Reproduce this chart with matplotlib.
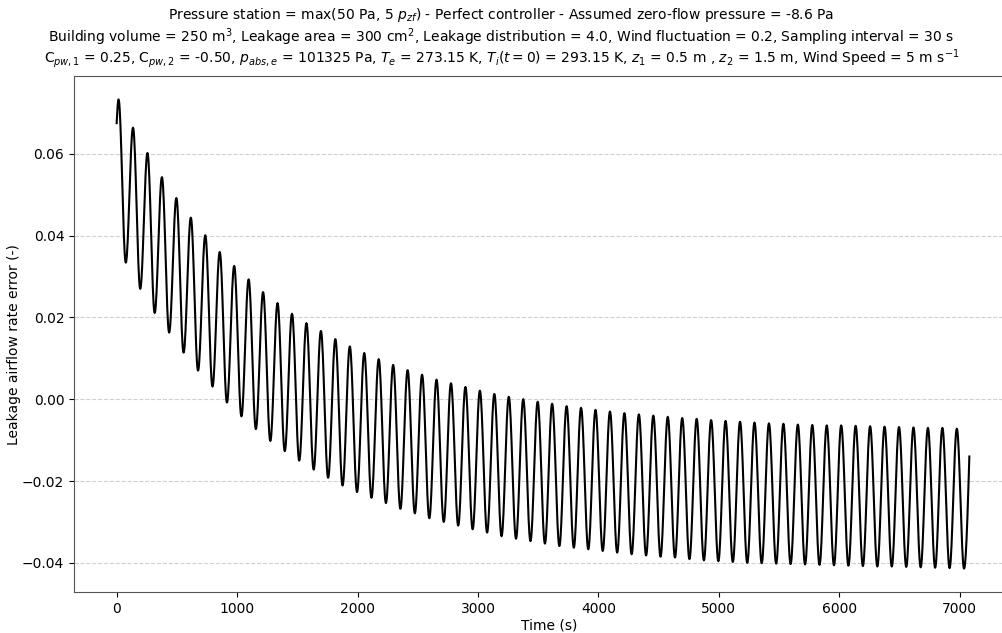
import numpy as np
import matplotlib
matplotlib.use("Agg")
import matplotlib.pyplot as plt

# ---- data ----
period = 120.0          # s, oscillation period
first_peak_time = 16.0  # s
start_time, start_value = 0.0, 0.0675
end_time, end_value = 7080.0, -0.0140

peak_values = [
    0.0733, 0.0664, 0.0602, 0.0543, 0.0492, 0.0444, 0.0401, 0.0360, 0.0326, 0.0293,
    0.0262, 0.0235, 0.0209, 0.0186, 0.0167, 0.0147, 0.0129, 0.0113, 0.0098, 0.0084,
    0.0071, 0.0060, 0.0048, 0.0039, 0.0030, 0.0021, 0.0013, 0.0006, 0.0000, -0.0006,
    -0.0011, -0.0017, -0.0021, -0.0026, -0.0030, -0.0034, -0.0037, -0.0040, -0.0043, -0.0046,
    -0.0048, -0.0051, -0.0053, -0.0055, -0.0057, -0.0059, -0.0060, -0.0062, -0.0063, -0.0064,
    -0.0064, -0.0065, -0.0066, -0.0067, -0.0068, -0.0069, -0.0070, -0.0070, -0.0072,
]
trough_values = [
    0.0334, 0.0270, 0.0211, 0.0163, 0.0114, 0.0070, 0.0031, -0.0008, -0.0042, -0.0073,
    -0.0102, -0.0127, -0.0150, -0.0172, -0.0192, -0.0211, -0.0227, -0.0241, -0.0254, -0.0268,
    -0.0279, -0.0291, -0.0300, -0.0309, -0.0318, -0.0326, -0.0335, -0.0341, -0.0347, -0.0353,
    -0.0359, -0.0363, -0.0367, -0.0371, -0.0375, -0.0379, -0.0382, -0.0385, -0.0387, -0.0391,
    -0.0394, -0.0396, -0.0398, -0.0400, -0.0401, -0.0402, -0.0403, -0.0404, -0.0405, -0.0406,
    -0.0407, -0.0408, -0.0409, -0.0409, -0.0410, -0.0411, -0.0412, -0.0413, -0.0414,
]

# ---- build the smooth trace through the extrema ----
ext_t, ext_v = [], []
for k, (p, q) in enumerate(zip(peak_values, trough_values)):
    ext_t += [first_peak_time + k * period, first_peak_time + k * period + period / 2]
    ext_v += [p, q]

t_all, v_all = [], []
s = np.linspace(0, 1, 20)
# start segment (ease-out into first peak)
t_all.append(start_time + (ext_t[0] - start_time) * s)
v_all.append(start_value + (ext_v[0] - start_value) * np.sin(np.pi / 2 * s))
for i in range(len(ext_t) - 1):
    t_all.append(ext_t[i] + (ext_t[i + 1] - ext_t[i]) * s[1:])
    v_all.append(ext_v[i] + (ext_v[i + 1] - ext_v[i]) * (1 - np.cos(np.pi * s[1:])) / 2)
# end segment (ease-in from last trough)
t_all.append(ext_t[-1] + (end_time - ext_t[-1]) * s[1:])
v_all.append(ext_v[-1] + (end_value - ext_v[-1]) * (1 - np.cos(np.pi / 2 * s[1:])))
t = np.concatenate(t_all)
v = np.concatenate(v_all)

title_lines = [
    r"Pressure station = max(50 Pa, 5 $p_{zf}$) - Perfect controller - Assumed zero-flow pressure = -8.6 Pa",
    r"Building volume = 250 m$^3$, Leakage area = 300 cm$^2$, Leakage distribution = 4.0, Wind fluctuation = 0.2, Sampling interval = 30 s",
    r"C$_{pw,1}$ = 0.25, C$_{pw,2}$ = -0.50, $p_{abs,e}$ = 101325 Pa, $T_e$ = 273.15 K, $T_i(t=0)$ = 293.15 K, $z_1$ = 0.5 m , $z_2$ = 1.5 m, Wind Speed = 5 m s$^{-1}$",
]

fig = plt.figure(figsize=(10.03, 6.33), dpi=100)
ax_w = 950 / 1003
ax = fig.add_axes([74 / 1003, 41 / 633, ax_w, 516 / 633])
ax.plot(t, v, color="black", lw=1.5)
ax.set_xlim(-354, -354 + 938 / 0.12044 * (950 / 938))
ax.set_xticks([0, 1000, 2000, 3000, 4000, 5000, 6000, 7000])
ax.set_yticks([-0.04, -0.02, 0.00, 0.02, 0.04, 0.06])
ax.grid(axis="y", linestyle="--", color="#d0d0d0", lw=0.8)
ax.set_xlabel("Time (s)", fontsize=10, labelpad=2)
ax.set_ylabel("Leakage airflow rate error (-)", fontsize=10)
ax.yaxis.set_label_coords(-53 / 950 * (950 / 938) * (938 / 950), 0.479)
ax.tick_params(labelsize=10)
for sp in ax.spines.values():
    sp.set_color("#555555")

fig.text(0.5, 1 - 15 / 633, title_lines[0], ha="center", va="center", fontsize=10)
fig.text(0.5, 1 - 37 / 633, title_lines[1], ha="center", va="center", fontsize=10)
fig.text(0.5, 1 - 59 / 633, title_lines[2], ha="center", va="center", fontsize=10)

fig.savefig("out.png", dpi=100)
